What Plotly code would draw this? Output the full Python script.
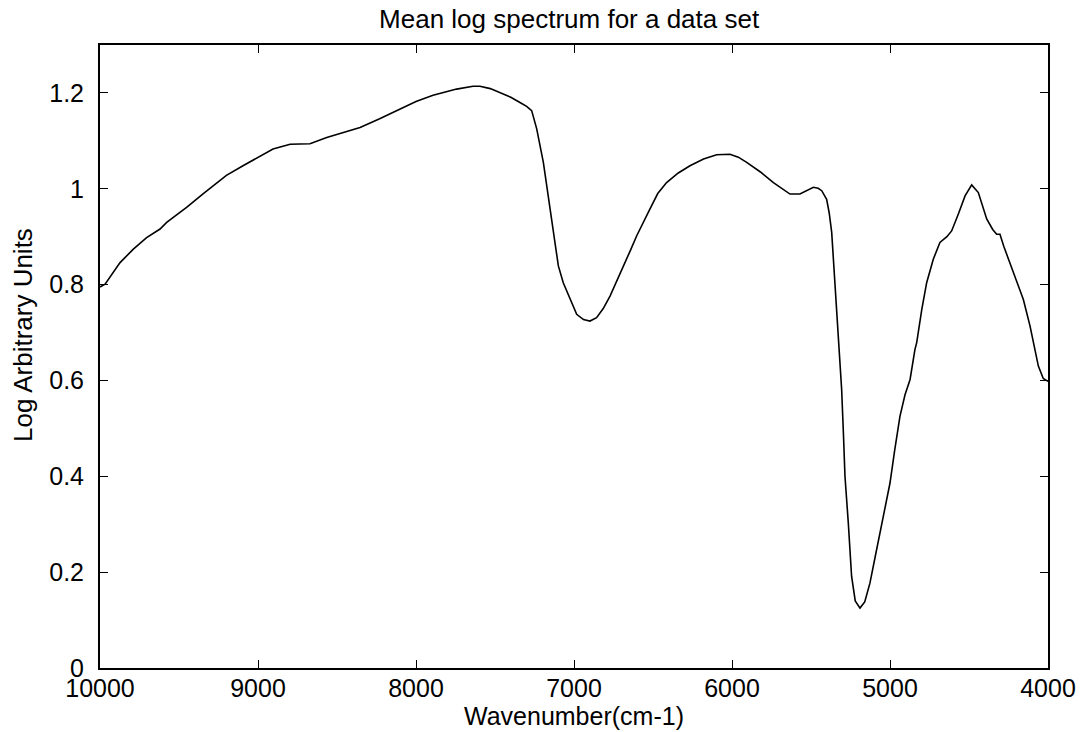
import plotly.graph_objects as go

wavenumber = [10000, 9968, 9873, 9789, 9705, 9620, 9578, 9452, 9346, 9261, 9200, 9095, 9000,
              8905, 8797, 8671, 8565, 8454, 8354, 8230, 8101, 8000, 7892, 7743, 7639, 7595,
              7530, 7468, 7400, 7342, 7300, 7268, 7236, 7194, 7162, 7131, 7099, 7068, 7025,
              6983, 6940, 6899, 6857, 6815, 6772, 6730, 6688, 6645, 6603, 6560, 6519, 6470,
              6414, 6340, 6266, 6180, 6097, 6013, 5960, 5907, 5820, 5738, 5680, 5633, 5570,
              5520, 5485, 5455, 5432, 5401, 5385, 5369, 5348, 5327, 5306, 5295, 5285,
              5264, 5243, 5220, 5190, 5160, 5127, 5095, 5063, 5030, 5000, 4970, 4937, 4905,
              4873, 4842, 4831, 4799, 4768, 4726, 4684, 4640, 4610, 4568, 4525, 4483, 4441,
              4388, 4350, 4325, 4304, 4280, 4251, 4209, 4156, 4114, 4061, 4030, 4000]
log_units = [0.795, 0.801, 0.846, 0.874, 0.898, 0.916, 0.930, 0.961, 0.990, 1.013, 1.028, 1.048, 1.066,
             1.083, 1.093, 1.094, 1.107, 1.118, 1.128, 1.146, 1.167, 1.182, 1.195, 1.208, 1.214, 1.214,
             1.209, 1.201, 1.191, 1.180, 1.172, 1.163, 1.125, 1.055, 0.985, 0.916, 0.839, 0.804, 0.769,
             0.738, 0.727, 0.724, 0.731, 0.750, 0.776, 0.806, 0.839, 0.870, 0.902, 0.932, 0.958, 0.990,
             1.013, 1.033, 1.048, 1.062, 1.071, 1.072, 1.066, 1.055, 1.035, 1.013, 1.000, 0.989, 0.989,
             0.997, 1.003, 1.001, 0.996, 0.978, 0.950, 0.909, 0.804, 0.690, 0.581, 0.491, 0.400,
             0.303, 0.191, 0.140, 0.125, 0.138, 0.177, 0.230, 0.282, 0.335, 0.386, 0.455, 0.525, 0.570,
             0.602, 0.665, 0.679, 0.748, 0.804, 0.853, 0.888, 0.900, 0.912, 0.947, 0.985, 1.008, 0.992,
             0.937, 0.915, 0.905, 0.905, 0.880, 0.853, 0.818, 0.769, 0.714, 0.630, 0.604, 0.598]

x_ticks = [10000, 9000, 8000, 7000, 6000, 5000, 4000]
x_tick_labels = ["10000", "9000", "8000", "7000", "6000", "5000", "4000"]
y_ticks = [0, 0.2, 0.4, 0.6, 0.8, 1.0, 1.2]
y_tick_labels = ["0", "0.2", "0.4", "0.6", "0.8", "1", "1.2"]

FONT = "Liberation Sans, Arial, sans-serif"
L, R, T, B = 100, 34, 45, 64
W, H = 1082, 732

fig = go.Figure()
fig.add_trace(go.Scatter(x=wavenumber, y=log_units, mode="lines",
                         line=dict(color="black", width=1.6), showlegend=False))

axis_common = dict(showgrid=False, zeroline=False, showline=True, linecolor="black",
                   linewidth=2, mirror="ticks", ticks="inside", ticklen=8, tickwidth=1.3,
                   tickcolor="black", automargin=False,
                   tickfont=dict(family=FONT, size=25, color="black"))

fig.update_layout(
    width=W, height=H,
    margin=dict(l=L, r=R, t=T, b=B),
    paper_bgcolor="white", plot_bgcolor="white",
    title=dict(text="Mean log spectrum for a data set", x=0.526, xanchor="center",
               yref="container", y=1 - 19 / H, yanchor="middle",
               font=dict(family=FONT, size=26, color="black")),
    xaxis=dict(range=[10000, 4000], tickvals=x_ticks, ticktext=x_tick_labels,
               title=dict(text="Wavenumber(cm-1)", standoff=3,
                          font=dict(family=FONT, size=25, color="black")),
               ticklabelstandoff=-3, **axis_common),
    yaxis=dict(range=[0, 1.3], tickvals=y_ticks, ticktext=y_tick_labels,
               ticklabelstandoff=9, **axis_common),
    annotations=[dict(text="Log Arbitrary Units", textangle=-90, xref="paper", yref="paper",
                      x=(23 - L) / (W - L - R), y=(H - B - 335) / (H - T - B),
                      xanchor="center", yanchor="middle", showarrow=False,
                      font=dict(family=FONT, size=26, color="black"))],
)

fig.write_html("out.html")
